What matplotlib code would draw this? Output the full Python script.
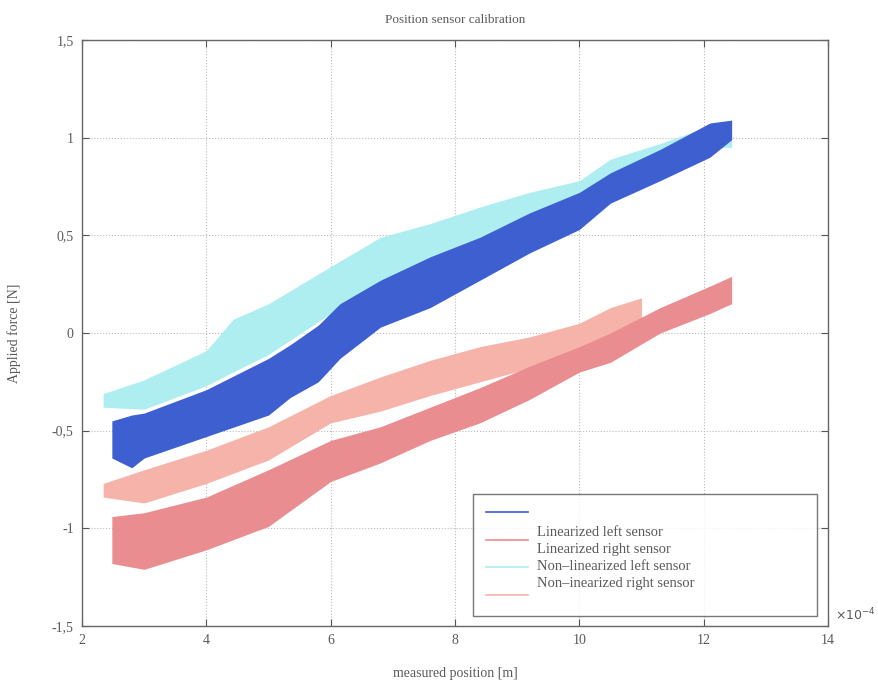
import matplotlib
matplotlib.use("Agg")
import matplotlib.pyplot as plt
from matplotlib.lines import Line2D
from matplotlib.ticker import FuncFormatter

# Band envelopes (x in units of 1e-4 m, force in N)
x_lin_left = [2.48, 2.8, 3.0, 4.0, 5.0, 5.35, 5.8, 6.15, 6.8, 7.6, 8.4, 9.2, 10.0, 10.5, 11.3, 12.1, 12.45]
top_lin_left = [-0.45, -0.42, -0.41, -0.29, -0.13, -0.06, 0.04, 0.15, 0.27, 0.39, 0.49, 0.615, 0.72, 0.82, 0.94, 1.075, 1.09]
bot_lin_left = [-0.64, -0.69, -0.64, -0.53, -0.42, -0.33, -0.25, -0.13, 0.03, 0.13, 0.27, 0.41, 0.53, 0.665, 0.78, 0.90, 0.99]

x_lin_right = [2.48, 3.0, 4.0, 5.0, 6.0, 6.8, 7.6, 8.4, 9.2, 10.0, 10.5, 11.3, 12.1, 12.45]
top_lin_right = [-0.94, -0.92, -0.84, -0.70, -0.55, -0.48, -0.38, -0.28, -0.17, -0.07, 0.0, 0.13, 0.24, 0.29]
bot_lin_right = [-1.18, -1.21, -1.11, -0.99, -0.76, -0.665, -0.55, -0.46, -0.34, -0.20, -0.15, 0.0, 0.10, 0.15]

x_raw_left = [2.34, 3.0, 4.0, 4.43, 5.0, 6.0, 6.8, 7.6, 8.4, 9.2, 10.0, 10.5, 11.3, 12.1, 12.45]
top_raw_left = [-0.31, -0.24, -0.09, 0.07, 0.15, 0.34, 0.49, 0.56, 0.645, 0.72, 0.78, 0.89, 0.97, 1.06, 1.0]
bot_raw_left = [-0.38, -0.39, -0.27, -0.2, -0.11, 0.1, 0.25, 0.37, 0.47, 0.6, 0.70, 0.80, 0.90, 0.95, 0.95]

x_raw_right = [2.34, 3.0, 4.0, 5.0, 6.0, 6.8, 7.6, 8.4, 9.2, 10.0, 10.5, 11.0]
top_raw_right = [-0.77, -0.70, -0.60, -0.48, -0.32, -0.225, -0.14, -0.07, -0.02, 0.05, 0.13, 0.18]
bot_raw_right = [-0.84, -0.87, -0.77, -0.65, -0.46, -0.40, -0.32, -0.25, -0.18, -0.10, -0.02, 0.02]

labels = ["Linearized left sensor", "Linearized right sensor",
          "Non\u2013linearized left sensor", "Non\u2013inearized right sensor"]
colors = ["#3d5fd0", "#e98d91", "#aeeef1", "#f6b3a9"]

x_ticks = [2, 4, 6, 8, 10, 12, 14]
y_ticks = [-1.5, -1, -0.5, 0, 0.5, 1, 1.5]

plt.rcParams["font.family"] = ["Liberation Serif", "DejaVu Serif"]
text_grey = "#5a5a5a"

fig = plt.figure(figsize=(8.79, 6.8), dpi=100)
ax = fig.add_axes([82 / 879, 54 / 680, 746 / 879, 586 / 680])

ax.fill_between(x_raw_left, bot_raw_left, top_raw_left, color=colors[2], lw=0, zorder=2)
ax.fill_between(x_raw_right, bot_raw_right, top_raw_right, color=colors[3], lw=0, zorder=2)
ax.fill_between(x_lin_left, bot_lin_left, top_lin_left, color=colors[0], lw=0, zorder=3)
ax.fill_between(x_lin_right, bot_lin_right, top_lin_right, color=colors[1], lw=0, zorder=3)

ax.set_xlim(2, 14)
ax.set_ylim(-1.5, 1.5)
ax.set_xticks(x_ticks)
ax.set_yticks(y_ticks)
ax.yaxis.set_major_formatter(FuncFormatter(lambda v, p: f"{v:g}".replace(".", ",")))
ax.tick_params(direction="in", top=True, right=True, length=5, width=0.8,
               color="#555555", labelcolor=text_grey, labelsize=10, pad=6)
ax.grid(True, linestyle=":", color="#bbbbbb", linewidth=0.8)
for s in ax.spines.values():
    s.set_color("#666666")
    s.set_linewidth(1.0)

ax.set_title("Position sensor calibration", fontsize=9.5, color=text_grey, pad=12)
ax.set_xlabel("measured position [m]", fontsize=10, color=text_grey, labelpad=14)
ax.set_ylabel("Applied force [N]", fontsize=10, color=text_grey, labelpad=22)
ax.text(1.01, 0.005, r"$\times10^{-4}$", transform=ax.transAxes, fontsize=9,
        color=text_grey, ha="left", va="bottom")

# legend: handles and text block sit slightly out of step, as in the original
handles = [Line2D([], [], color=c, lw=1.2) for c in colors]
leg = ax.legend(handles, [" "] * 4, loc="lower left",
                bbox_to_anchor=(0.524, 0.017, 0.461, 0.2), mode="expand",
                borderaxespad=0, fancybox=False, fontsize=10, handlelength=3.0,
                labelspacing=1.05, borderpad=0.95, handletextpad=0.5)
leg.get_frame().set_edgecolor("#555555")
leg.get_frame().set_linewidth(1.0)
leg.set_zorder(5)
ax.text(0.61, 0.116, "\n".join(labels), transform=ax.transAxes, fontsize=10.5,
        color=text_grey, ha="left", va="center", linespacing=1.4, zorder=6)

fig.savefig("out.png", dpi=100)
